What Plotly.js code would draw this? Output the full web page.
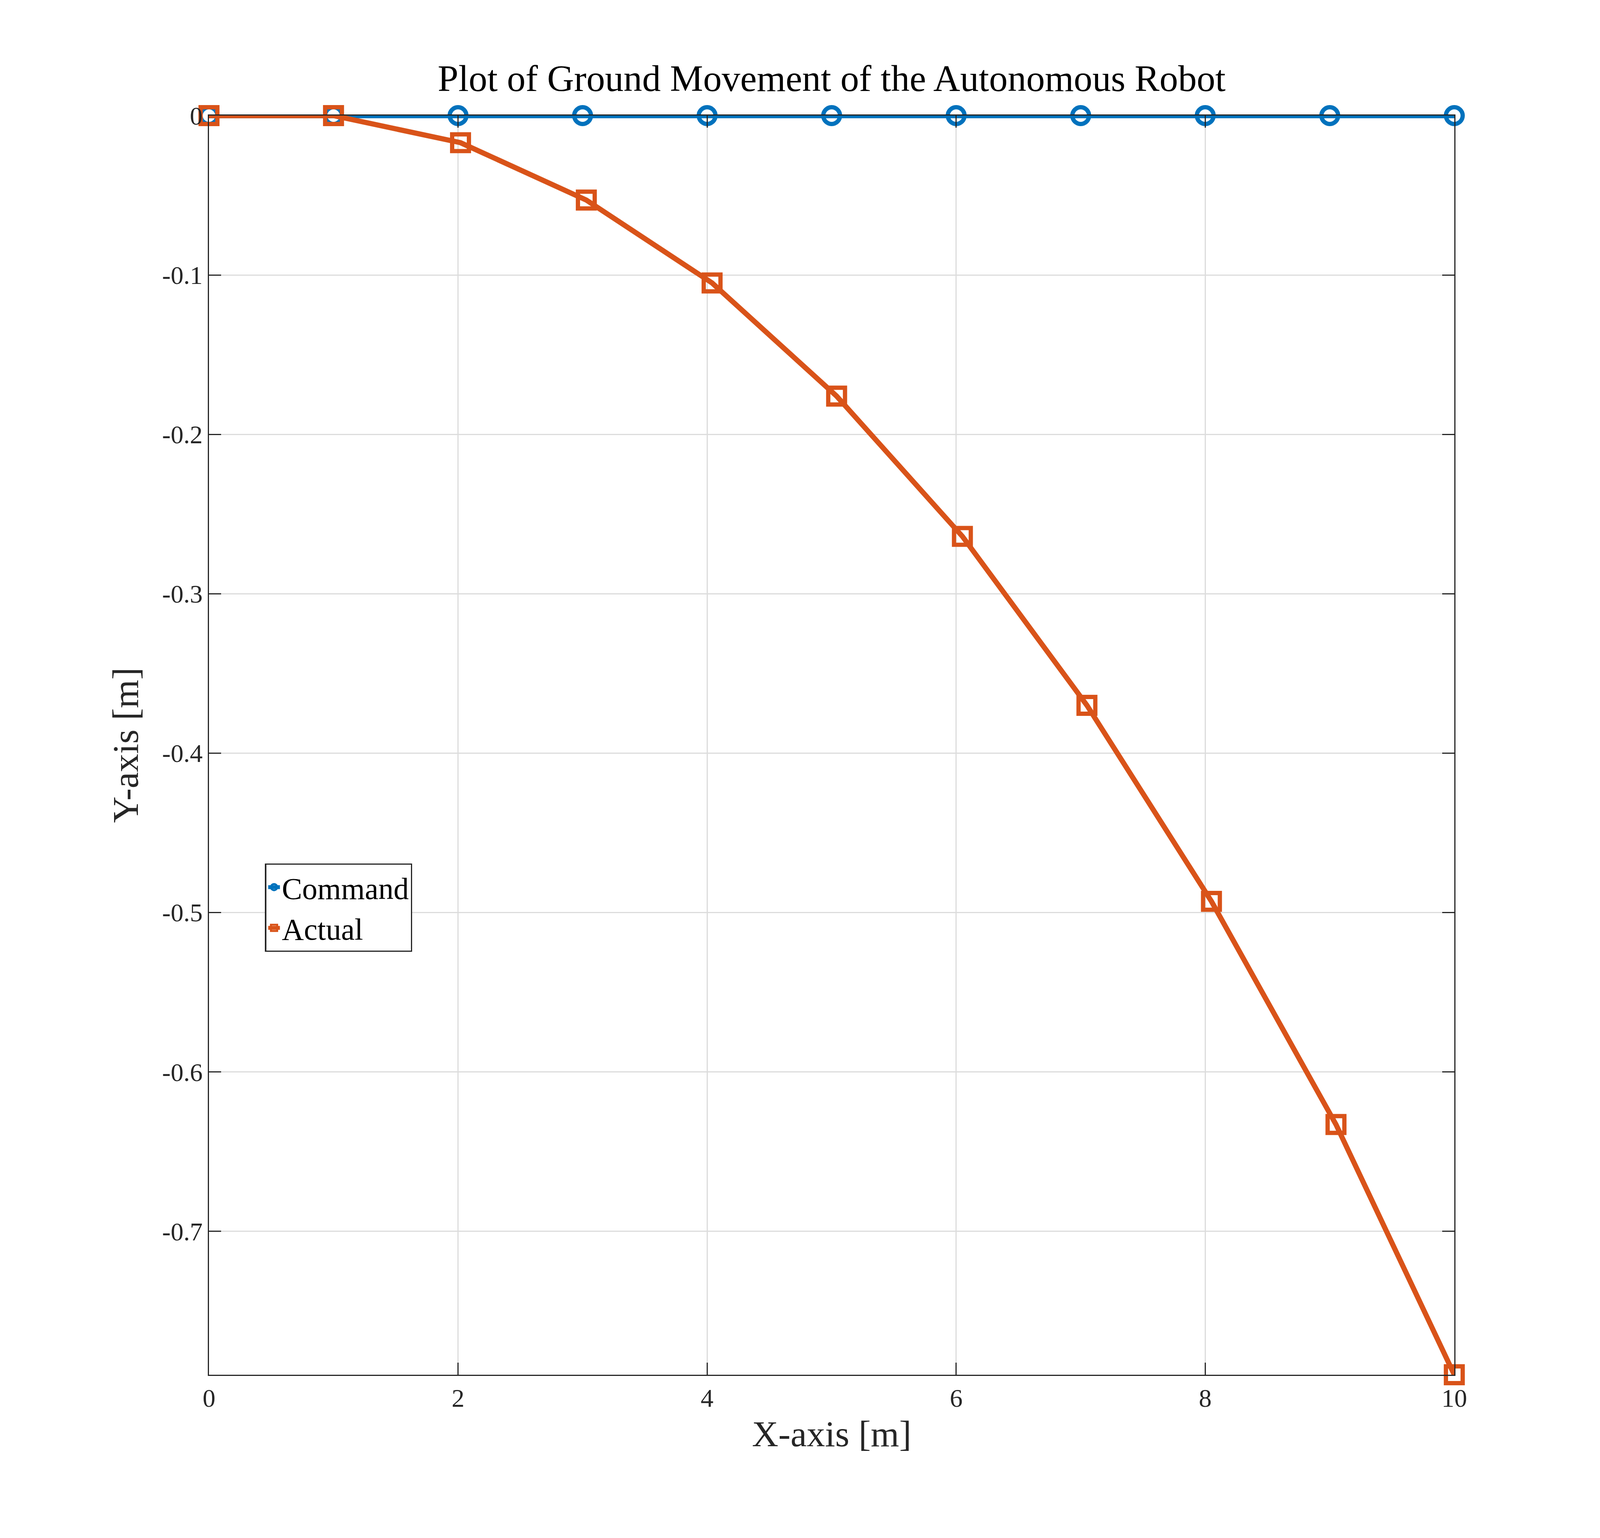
<!DOCTYPE html>
<html>
<head>
<script src="https://cdn.plot.ly/plotly-3.0.1.min.js"></script>
<style>html,body{margin:0;padding:0;background:#fff;overflow:hidden}</style>
</head>
<body>
<div id="graf"></div>
<script>
// Gögn lesin af myndinni
const cmdX = [0, 1, 2, 3, 4, 5, 6, 7, 8, 9, 10];
const cmdY = [0, 0, 0, 0, 0, 0, 0, 0, 0, 0, 0];
const actX = [0, 1, 2.02, 3.03, 4.04, 5.04, 6.05, 7.05, 8.05, 9.05, 10];
const actY = [0, 0, -0.017, -0.053, -0.105, -0.176, -0.264, -0.370, -0.493, -0.633, -0.790];
const yTicks = [0, -0.1, -0.2, -0.3, -0.4, -0.5, -0.6, -0.7];
const yTickText = ['0', '-0.1', '-0.2', '-0.3', '-0.4', '-0.5', '-0.6', '-0.7'];

const font = 'Liberation Serif, DejaVu Serif, serif';

// Stærðir miðast við raunverulegan glugga
const W = window.innerWidth, H = window.innerHeight;
const s = Math.min(W / 5250, H / 3938);
const div = document.getElementById('graf');
div.style.width = W + 'px';
div.style.height = H + 'px';

let traces = [
        {
                x: cmdX, y: cmdY, name: 'Command', type: 'scatter', mode: 'lines+markers', cliponaxis: false,
                line: {color: '#0072BD', width: 17 * s},
                marker: {symbol: 'circle-open', size: 55 * s, color: '#0072BD', line: {width: 14 * s, color: '#0072BD'}},
        },
        {
                x: actX, y: actY, name: 'Actual', type: 'scatter', mode: 'lines+markers', cliponaxis: false,
                line: {color: '#D95319', width: 17 * s},
                marker: {symbol: 'square-open', size: 55 * s, color: '#D95319', line: {width: 14 * s, color: '#D95319'}},
        },
];

let axisCommon = {
        showline: true, mirror: 'ticks', linecolor: '#262626', linewidth: 4 * s,
        ticks: 'inside', ticklen: 40 * s, tickwidth: 4 * s, tickcolor: '#262626',
        showgrid: true, gridcolor: '#dcdcdc', gridwidth: 4 * s, zeroline: false,
        tickfont: {family: font, size: 84 * s, color: '#262626'},
};

let layout = {
        width: W, height: H,
        margin: {l: W * 686 / 5250, r: W * 478 / 5250, t: H * 296 / 3938, b: H * 418 / 3938},
        paper_bgcolor: '#fff', plot_bgcolor: '#fff',
        title: {text: 'Plot of Ground Movement of the Autonomous Robot', font: {family: font, size: 122 * s, color: '#000'},
                x: 0.5, xref: 'paper', y: 1 - 200 / 3938, yanchor: 'middle'},
        xaxis: Object.assign({}, axisCommon, {
                range: [0, 10], tickvals: [0, 2, 4, 6, 8, 10],
                title: {text: 'X-axis [m]', font: {family: font, size: 120 * s, color: '#262626'}, standoff: 30 * s},
        }),
        yaxis: Object.assign({}, axisCommon, {
                range: [-0.79, 0], tickvals: yTicks, ticktext: yTickText,
                title: {text: 'Y-axis [m]', font: {family: font, size: 120 * s, color: '#262626'}, standoff: 40 * s},
        }),
        legend: {
                x: 0.045, y: 0.406, xanchor: 'left', yanchor: 'top',
                bgcolor: '#fff', bordercolor: '#262626', borderwidth: 4 * s,
                font: {family: font, size: 100 * s, color: '#000'},
        },
        showlegend: true,
};

Plotly.newPlot(div, traces, layout, {displayModeBar: false});
</script>
</body>
</html>
